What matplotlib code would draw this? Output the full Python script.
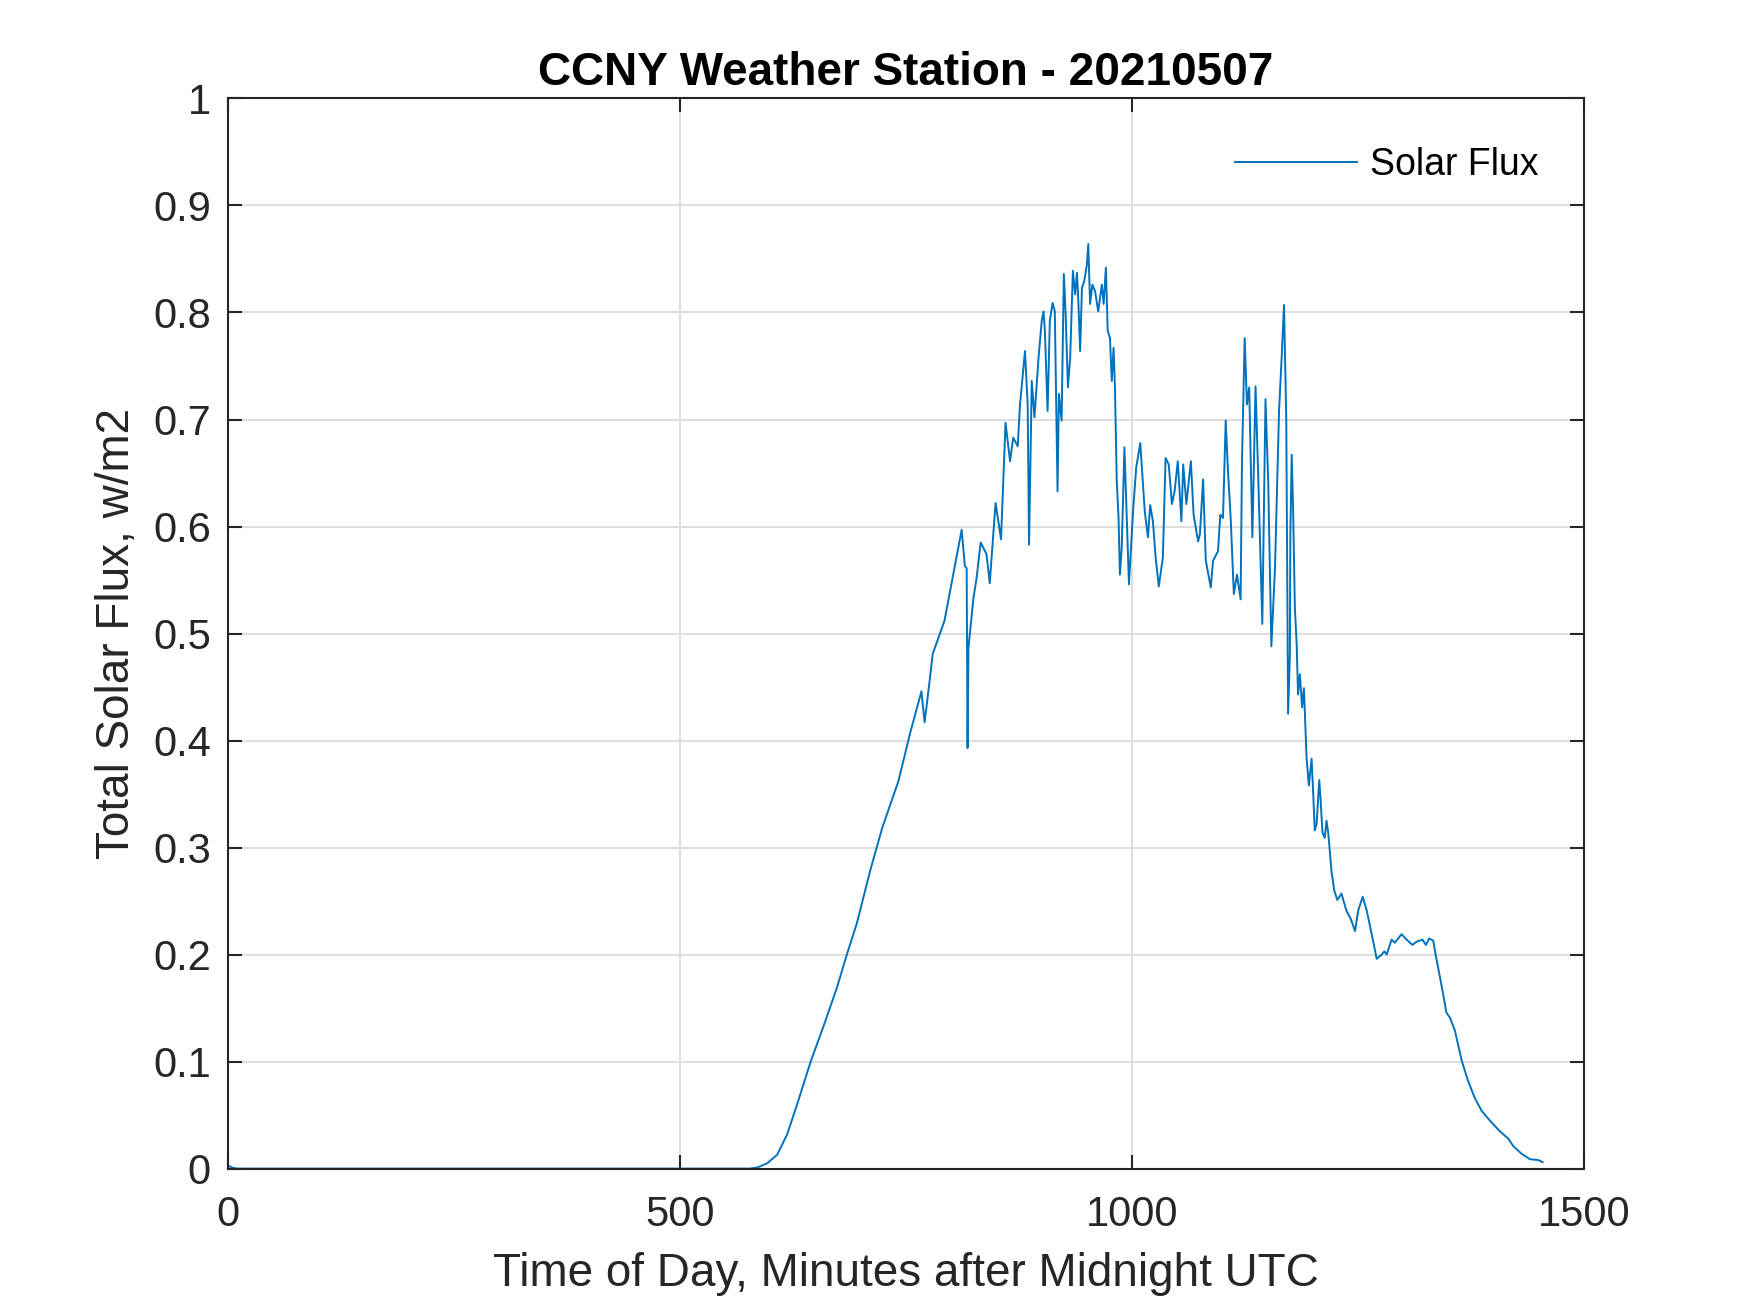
import matplotlib
matplotlib.use("Agg")
import matplotlib.pyplot as plt

# Data (minutes after midnight UTC, flux)
minutes = [0, 5, 10, 578, 586, 597, 608, 619, 630, 645, 660, 674, 685, 696, 711, 724,
           742, 755, 767.5, 771, 777, 780, 787.5, 793, 812, 815.5, 817.5, 818.5, 819.5,
           825, 828.5, 833, 839.5, 843, 849.5, 855.5, 860.5, 865.5, 869, 874, 876.5,
           882, 885, 886.5, 889.5, 892.5, 897, 900.5, 902.5, 904, 907, 909.5, 912.5,
           915, 918, 919.5, 922.5, 925, 927, 929.5, 932, 935, 937.5, 939.5, 941, 943,
           945, 947.5, 950.5, 952, 954, 956.5, 959.5, 963, 967, 969, 971.5, 973.5, 976,
           978, 980, 981.5, 983.5, 985.5, 987, 989, 992, 997, 1001.5, 1005, 1009.5,
           1014.5, 1018, 1020.5, 1023.5, 1026.5, 1030, 1034.5, 1037.5, 1041, 1044.5,
           1047.5, 1051, 1055, 1057, 1060.5, 1065.5, 1068.5, 1073.5, 1075.5, 1079, 1082,
           1087.5, 1090, 1095.5, 1098, 1101, 1104, 1106.5, 1109.5, 1113, 1116.5, 1120.5,
           1122, 1125, 1127.5, 1130, 1133.5, 1137, 1140, 1144.5, 1148, 1151, 1154.5,
           1158.5, 1163, 1166, 1168.5, 1171, 1173, 1175, 1175.5, 1177, 1178.5, 1180.5,
           1182.5, 1184, 1186, 1188.5, 1190.5, 1192.5, 1193.5, 1196, 1199, 1200.5,
           1202.5, 1204.5, 1207.5, 1209, 1211, 1213.5, 1215.5, 1217.5, 1221, 1224,
           1227.5, 1232, 1237.5, 1242.5, 1247, 1250.5, 1255.5, 1260, 1265.5, 1271,
           1276.5, 1279.5, 1282, 1287.5, 1291, 1298.5, 1304, 1310.5, 1315, 1321.5,
           1325.5, 1329, 1333.5, 1335.5, 1339.5, 1344.5, 1348, 1352, 1357.5, 1365, 1372,
           1379.5, 1387, 1396, 1407, 1416.5, 1422, 1431, 1440.5, 1449.5, 1454.5]
flux = [0.003, 0.001, 0.0, 0.0, 0.001, 0.005, 0.013, 0.032, 0.060, 0.100, 0.135, 0.169,
        0.200, 0.229, 0.279, 0.318, 0.362, 0.407, 0.446, 0.417, 0.459, 0.481, 0.499,
        0.512, 0.597, 0.563, 0.561, 0.393, 0.487, 0.533, 0.552, 0.585, 0.574, 0.547,
        0.622, 0.588, 0.697, 0.661, 0.683, 0.675, 0.714, 0.764, 0.714, 0.583, 0.736,
        0.702, 0.758, 0.792, 0.801, 0.783, 0.708, 0.792, 0.809, 0.801, 0.633, 0.724,
        0.699, 0.836, 0.798, 0.730, 0.758, 0.839, 0.817, 0.837, 0.811, 0.764, 0.823,
        0.829, 0.845, 0.864, 0.808, 0.826, 0.820, 0.801, 0.826, 0.808, 0.842, 0.783,
        0.776, 0.736, 0.767, 0.730, 0.643, 0.608, 0.555, 0.580, 0.674, 0.546, 0.614,
        0.655, 0.678, 0.614, 0.590, 0.620, 0.605, 0.571, 0.544, 0.571, 0.664, 0.658,
        0.621, 0.633, 0.661, 0.605, 0.658, 0.621, 0.661, 0.611, 0.586, 0.593, 0.644,
        0.568, 0.543, 0.568, 0.577, 0.611, 0.608, 0.699, 0.652, 0.608, 0.537, 0.555,
        0.532, 0.661, 0.776, 0.714, 0.730, 0.590, 0.731, 0.646, 0.509, 0.719, 0.643,
        0.488, 0.561, 0.708, 0.760, 0.807, 0.699, 0.425, 0.481, 0.593, 0.667, 0.618,
        0.524, 0.490, 0.443, 0.462, 0.431, 0.449, 0.405, 0.383, 0.358, 0.383, 0.356,
        0.316, 0.322, 0.363, 0.344, 0.314, 0.309, 0.325, 0.313, 0.278, 0.260, 0.251,
        0.257, 0.241, 0.233, 0.222, 0.241, 0.254, 0.241, 0.219, 0.196, 0.200, 0.203,
        0.200, 0.214, 0.211, 0.219, 0.214, 0.209, 0.212, 0.214, 0.209, 0.215, 0.213,
        0.203, 0.185, 0.163, 0.146, 0.141, 0.129, 0.101, 0.082, 0.066, 0.054, 0.045,
        0.035, 0.028, 0.021, 0.014, 0.0087, 0.008, 0.006]

xticks = [0, 500, 1000, 1500]
yticks = [0, 0.1, 0.2, 0.3, 0.4, 0.5, 0.6, 0.7, 0.8, 0.9, 1]
yticklabels = ["0", "0.1", "0.2", "0.3", "0.4", "0.5", "0.6", "0.7", "0.8", "0.9", "1"]

title = "CCNY Weather Station - 20210507"
xlabel = "Time of Day, Minutes after Midnight UTC"
ylabel = "Total Solar Flux, w/m2"
series_name = "Solar Flux"

plt.rcParams['font.family'] = ['Liberation Sans', 'DejaVu Sans']

fig = plt.figure(figsize=(17.5, 13.13), dpi=100)
ax = fig.add_axes([0.13, 0.11, 0.775, 0.815])

ax.plot(minutes, flux, color='#0072BD', linewidth=1.4, label=series_name)

ax.set_xlim(0, 1500)
ax.set_ylim(0, 1)
ax.set_xticks(xticks)
ax.set_xticklabels([str(t) for t in xticks])
ax.set_yticks(yticks)
ax.set_yticklabels(yticklabels)

ax.grid(True, color='#dedede', linewidth=1.4)
ax.set_axisbelow(True)

dark = '#262626'
for s in ax.spines.values():
    s.set_color(dark)
    s.set_linewidth(1.5)
ax.tick_params(axis='both', which='both', direction='in', length=10, width=1.5,
               colors=dark, labelsize=30, top=True, right=True)
ax.tick_params(axis='x', pad=19)
ax.tick_params(axis='y', pad=12)

ax.set_xlabel(xlabel, fontsize=33, color=dark, labelpad=12)
ax.set_ylabel(ylabel, fontsize=33, color=dark, labelpad=10)
ax.set_title(title, fontsize=33, fontweight='bold', color='black', pad=10)

leg = ax.legend(loc='center right', bbox_to_anchor=(0.978, 0.938), fontsize=27,
                frameon=False, handlelength=3.25, handletextpad=0.37, borderpad=0.4,
                borderaxespad=0)
for t in leg.get_texts():
    t.set_color('black')

fig.savefig('out.png', dpi=100)
